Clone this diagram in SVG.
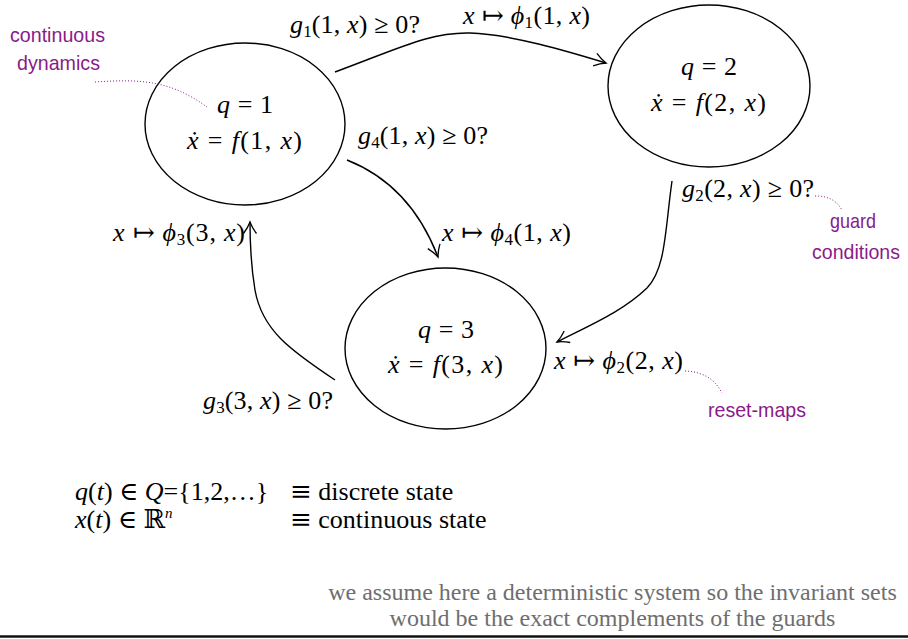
<svg xmlns="http://www.w3.org/2000/svg" width="908" height="639" viewBox="0 0 908 639">
<style>
.m{font-family:"Liberation Serif","DejaVu Serif",serif;font-size:26px;fill:#000}
.i{font-style:italic}
.sub{font-size:17px}
.sym{font-family:"DejaVu Serif","DejaVu Sans",serif;font-style:normal}
.node{fill:#fff;stroke:#000;stroke-width:1.4}
.edge{fill:none;stroke:#000;stroke-width:1.4}
.ann{font-family:"Liberation Sans Narrow","Liberation Sans",sans-serif;font-size:21px;fill:#8a1a8a}
.dot{fill:none;stroke:#8a1a8a;stroke-width:1;stroke-dasharray:1 2}
.leg{font-family:"Liberation Serif",serif;font-size:26px;fill:#000}
.foot{font-family:"Liberation Serif",serif;font-size:24px;fill:#6e6e6e;text-anchor:middle}
</style>
<defs>
<marker id="ah" markerWidth="18" markerHeight="18" refX="13" refY="9" orient="auto" markerUnits="userSpaceOnUse">
<path d="M1.5,2.5 Q7.5,7 13,9 Q7.5,11 1.5,15.5" fill="none" stroke="#000" stroke-width="1.3"/>
</marker>
</defs>
<rect width="908" height="639" fill="#fff"/>

<g id="node1">
<ellipse class="node" cx="245" cy="124" rx="100" ry="81"/>
<text class="m" x="217" y="113" textLength="56" lengthAdjust="spacing"><tspan class="i">q</tspan> = 1</text>
<text class="m" x="187" y="149" textLength="115" lengthAdjust="spacing"><tspan class="i">ẋ</tspan> = <tspan class="i">f</tspan>(1, <tspan class="i">x</tspan>)</text>
</g>
<g id="node2">
<ellipse class="node" cx="709" cy="86" rx="101" ry="81"/>
<text class="m" x="681" y="75" textLength="56" lengthAdjust="spacing"><tspan class="i">q</tspan> = 2</text>
<text class="m" x="651" y="111" textLength="115" lengthAdjust="spacing"><tspan class="i">ẋ</tspan> = <tspan class="i">f</tspan>(2, <tspan class="i">x</tspan>)</text>
</g>
<g id="node3">
<ellipse class="node" cx="445.5" cy="348.5" rx="100.5" ry="80.5"/>
<text class="m" x="418" y="338" textLength="56" lengthAdjust="spacing"><tspan class="i">q</tspan> = 3</text>
<text class="m" x="388" y="373" textLength="115" lengthAdjust="spacing"><tspan class="i">ẋ</tspan> = <tspan class="i">f</tspan>(3, <tspan class="i">x</tspan>)</text>
</g>

<g id="connectors">
<path class="edge" d="M335,72 C400,48 430,32 470,33 S570,52 606,63" marker-end="url(#ah)"/>
<path class="edge" d="M347,160 C385,175 418,205 438,257" marker-end="url(#ah)"/>
<path class="edge" d="M672,181 C665,230 666,268 647,288 C622,312 590,325 557,342" marker-end="url(#ah)"/>
<path class="edge" d="M335,380 C290,350 262,330 255,290 C250,260 250,240 250,222" marker-end="url(#ah)"/>
</g>

<g id="labels">
<text class="m" x="290" y="33" textLength="130" lengthAdjust="spacing"><tspan class="i">g</tspan><tspan class="sub" dy="4">1</tspan><tspan dy="-4">(1, </tspan><tspan class="i">x</tspan>) ≥ 0?</text>
<text class="m" x="463" y="24" textLength="127" lengthAdjust="spacing"><tspan class="i">x</tspan> <tspan class="sym">↦</tspan> <tspan class="i">ϕ</tspan><tspan class="sub" dy="4">1</tspan><tspan dy="-4">(1, </tspan><tspan class="i">x</tspan>)</text>
<text class="m" x="358" y="144" textLength="130" lengthAdjust="spacing"><tspan class="i">g</tspan><tspan class="sub" dy="4">4</tspan><tspan dy="-4">(1, </tspan><tspan class="i">x</tspan>) ≥ 0?</text>
<text class="m" x="682" y="197" textLength="132" lengthAdjust="spacing"><tspan class="i">g</tspan><tspan class="sub" dy="4">2</tspan><tspan dy="-4">(2, </tspan><tspan class="i">x</tspan>) ≥ 0?</text>
<text class="m" x="442" y="241" textLength="129" lengthAdjust="spacing"><tspan class="i">x</tspan> <tspan class="sym">↦</tspan> <tspan class="i">ϕ</tspan><tspan class="sub" dy="4">4</tspan><tspan dy="-4">(1, </tspan><tspan class="i">x</tspan>)</text>
<text class="m" x="113" y="241" textLength="132" lengthAdjust="spacing"><tspan class="i">x</tspan> <tspan class="sym">↦</tspan> <tspan class="i">ϕ</tspan><tspan class="sub" dy="4">3</tspan><tspan dy="-4">(3, </tspan><tspan class="i">x</tspan>)</text>
<text class="m" x="203" y="409" textLength="130" lengthAdjust="spacing"><tspan class="i">g</tspan><tspan class="sub" dy="4">3</tspan><tspan dy="-4">(3, </tspan><tspan class="i">x</tspan>) ≥ 0?</text>
<text class="m" x="554" y="369" textLength="129" lengthAdjust="spacing"><tspan class="i">x</tspan> <tspan class="sym">↦</tspan> <tspan class="i">ϕ</tspan><tspan class="sub" dy="4">2</tspan><tspan dy="-4">(2, </tspan><tspan class="i">x</tspan>)</text>
</g>

<g id="annotations">
<text class="ann" x="10" y="42" textLength="95" lengthAdjust="spacingAndGlyphs">continuous</text>
<text class="ann" x="17" y="70" textLength="83" lengthAdjust="spacingAndGlyphs">dynamics</text>
<path class="dot" d="M95,82 C140,79 170,80 207,107"/>
<text class="ann" x="830" y="228" textLength="46" lengthAdjust="spacingAndGlyphs">guard</text>
<text class="ann" x="812" y="259" textLength="88" lengthAdjust="spacingAndGlyphs">conditions</text>
<path class="dot" d="M815,196 C828,196 836,200 842,210"/>
<text class="ann" x="708" y="417" textLength="98" lengthAdjust="spacingAndGlyphs">reset-maps</text>
<path class="dot" d="M685,371 C705,372 715,380 722,393"/>
</g>

<g id="legend">
<text class="leg" x="75" y="500"><tspan class="i">q</tspan>(<tspan class="i">t</tspan>) <tspan class="sym">∈</tspan> <tspan class="i">Q</tspan>={1,2,…}</text>
<text class="leg" x="290" y="500"><tspan class="sym">≡</tspan> discrete state</text>
<text class="leg" x="75" y="528"><tspan class="i">x</tspan>(<tspan class="i">t</tspan>) <tspan class="sym">∈</tspan> <tspan class="sym">ℝ</tspan><tspan class="i" font-size="15" dy="-10">n</tspan></text>
<text class="leg" x="290" y="528"><tspan class="sym">≡</tspan> continuous state</text>
</g>

<g id="footer">
<text class="foot" x="612.5" y="600">we assume here a deterministic system so the invariant sets</text>
<text class="foot" x="612.5" y="626">would be the exact complements of the guards</text>
<line x1="0" y1="636.5" x2="908" y2="636.5" stroke="#111" stroke-width="2.5"/>
</g>
</svg>
